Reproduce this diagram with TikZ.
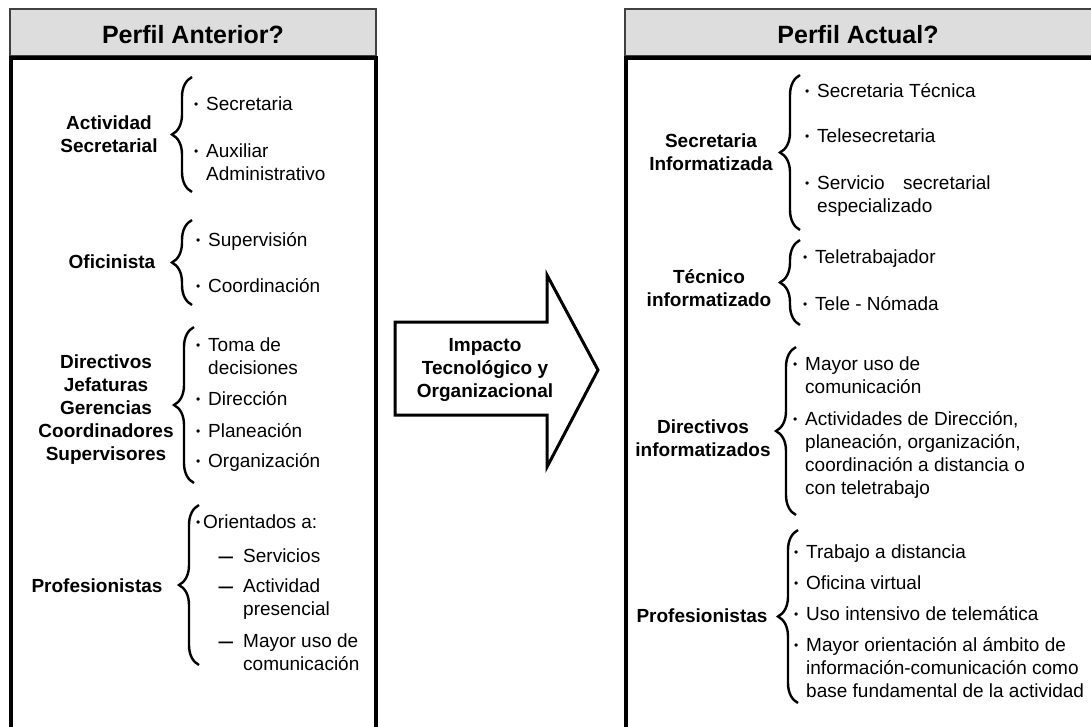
\documentclass[tikz,border=0pt]{standalone}
\usepackage{fontspec}
\setmainfont{Liberation Sans}
\usetikzlibrary{decorations.pathreplacing}
\tikzset{
  lbl/.style={font=\fontsize{19}{23}\selectfont\bfseries, align=center, anchor=base, inner sep=0pt},
  itm/.style={font=\fontsize{19}{23}\selectfont, align=left, anchor=base west, inner sep=0pt},
  ttl/.style={font=\fontsize{25}{30}\selectfont\bfseries, anchor=base, inner sep=0pt},
  brc/.style={decorate, decoration={brace, amplitude=20pt}, line width=2.4pt},
  hdr/.style={fill=gray!27, draw=black!75, line width=1.5pt},
  frame/.style={line width=3.5pt},
}
\newcommand{\bul}{\llap{\raisebox{1.5pt}{\fontsize{12}{12}\selectfont\textbullet}\hspace{8pt}}}
\newcommand{\bulx}{\llap{\raisebox{1.5pt}{\fontsize{12}{12}\selectfont\textbullet}\hspace{3pt}}}
\newcommand{\dsh}{\llap{\raisebox{-2.5pt}{\fontsize{26}{26}\selectfont –}\hspace{10pt}}}
\begin{document}
\begin{tikzpicture}[x=1pt, y=-1pt]
  \clip (0,0) rectangle (1091,726);
  \fill[white] (0,0) rectangle (1091,726);
  % Headers
  \draw[hdr] (10,9) rectangle (376,56);
  \draw[hdr] (625,9) rectangle (1100,56);
  \node[ttl] (hant) at (193,43) {Perfil Anterior?};
  \node[ttl] (hact) at (858,43) {Perfil Actual?};
  % Frames
  \draw[frame] (11,740) -- (11,58) -- (376,58) -- (376,740);
  \draw[frame] (626,740) -- (626,58) -- (1100,58);
  % Arrow (multi-line nodes sit on their last baseline)
  \draw[line width=3pt, line join=miter] (395,322) -- (547,322) -- (547,275) -- (598,370)
    -- (547,467) -- (547,415) -- (395,415) -- cycle;
  \node[lbl] (imp) at (485,397) {Impacto\\Tecnológico y\\Organizacional};

  % Left: Actividad Secretarial
  \node[lbl] (act) at (109,152) {Actividad\\Secretarial};
  \coordinate (b1t) at (192,77);
  \coordinate (b1b) at (192,192);
  \draw[brc] (b1b) -- (b1t);
  \node[itm] (sec) at (206,110) {\bul Secretaria};
  \node[itm] (aux) at (206,180) {\bul Auxiliar\\Administrativo};
  % Left: Oficinista
  \node[lbl] (ofi) at (112,268) {Oficinista};
  \coordinate (b2t) at (192,220);
  \coordinate (b2b) at (192,305);
  \draw[brc] (b2b) -- (b2t);
  \node[itm] (sup) at (208,246) {\bul Supervisión};
  \node[itm] (coo) at (208,292) {\bul Coordinación};
  % Left: Directivos
  \node[lbl] (dir) at (106,460) {Directivos\\Jefaturas\\Gerencias\\Coordinadores\\Supervisores};
  \coordinate (b3t) at (194,327);
  \coordinate (b3b) at (194,483);
  \draw[brc] (b3b) -- (b3t);
  \node[itm] (tom) at (208,374) {\bul Toma de\\decisiones};
  \node[itm] (dcc) at (208,405) {\bul Dirección};
  \node[itm] (pla) at (208,437) {\bul Planeación};
  \node[itm] (org) at (208,467) {\bul Organización};
  % Left: Profesionistas
  \node[lbl] (pro) at (97,592) {Profesionistas};
  \coordinate (b4t) at (199,505);
  \coordinate (b4b) at (199,665);
  \draw[brc] (b4b) -- (b4t);
  \node[itm] (ori) at (203,528) {\bulx Orientados a:};
  \node[itm] (ser) at (243,562) {\dsh Servicios};
  \node[itm] (pre) at (243,615) {\dsh Actividad\\presencial};
  \node[itm] (may) at (243,670) {\dsh Mayor uso de\\comunicación};

  % Right: Secretaria Informatizada
  \node[lbl] (sinf) at (711,170) {Secretaria\\Informatizada};
  \coordinate (c1t) at (800,75);
  \coordinate (c1b) at (800,230);
  \draw[brc] (c1b) -- (c1t);
  \node[itm] (stec) at (817,97) {\bul Secretaria Técnica};
  \node[itm] (tsec) at (817,142) {\bul Telesecretaria};
  \node[itm] (sesp) at (817,212) {\bul Servicio\hspace{13pt} secretarial\\especializado};
  % Right: Tecnico informatizado
  \node[lbl] (tinf) at (709,306) {Técnico\\informatizado};
  \coordinate (c2t) at (800,240);
  \coordinate (c2b) at (800,325);
  \draw[brc] (c2b) -- (c2t);
  \node[itm] (ttra) at (815,263) {\bul Teletrabajador};
  \node[itm] (tnom) at (815,310) {\bul Tele - Nómada};
  % Right: Directivos informatizados
  \node[lbl] (dinf) at (703,456) {Directivos\\informatizados};
  \coordinate (c3t) at (796,347);
  \coordinate (c3b) at (796,515);
  \draw[brc] (c3b) -- (c3t);
  \node[itm] (muso) at (805,393) {\bul Mayor uso de\\comunicación};
  \node[itm] (adir) at (805,494) {\bul Actividades de Dirección,\\planeación, organización,\\coordinación a distancia o\\con teletrabajo};
  % Right: Profesionistas
  \node[lbl] (pinf) at (702,622) {Profesionistas};
  \coordinate (c4t) at (798,530);
  \coordinate (c4b) at (798,703);
  \draw[brc] (c4b) -- (c4t);
  \node[itm] (tdis) at (806,558) {\bul Trabajo a distancia};
  \node[itm] (ovir) at (806,589) {\bul Oficina virtual};
  \node[itm] (utel) at (806,620) {\bul Uso intensivo de telemática};
  \node[itm] (mori) at (806,697) {\bul Mayor orientación al ámbito de\\información-comunicación como\\base fundamental de la actividad};
\end{tikzpicture}
\end{document}
